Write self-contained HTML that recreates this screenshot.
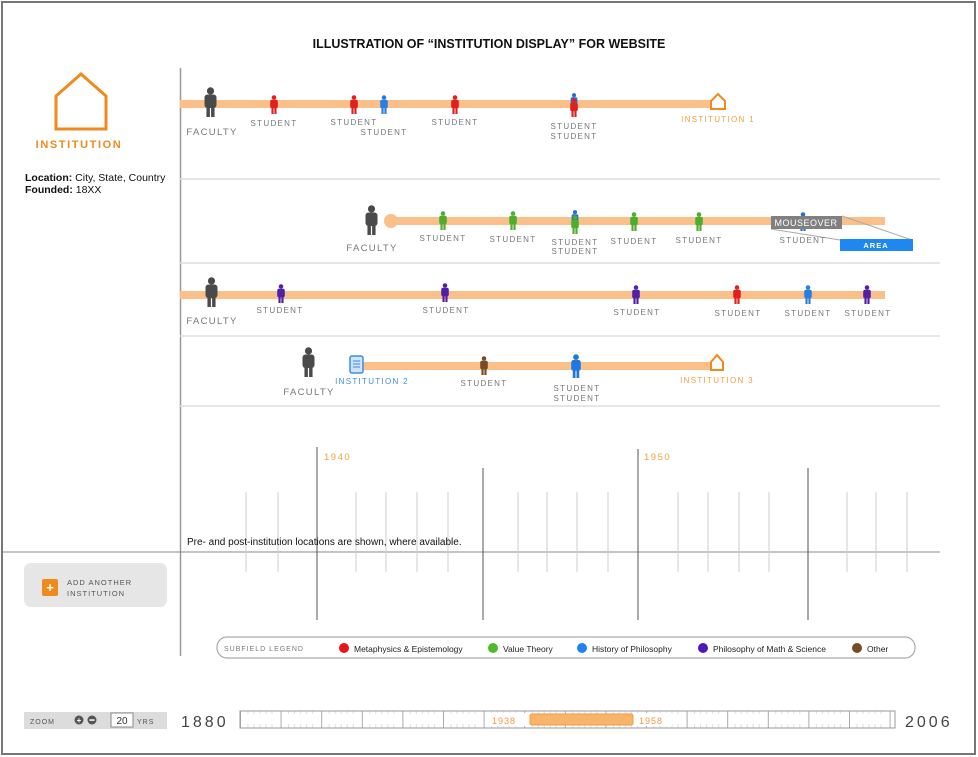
<!DOCTYPE html>
<html><head><meta charset="utf-8"><style>
html,body{margin:0;padding:0;background:#fff}
svg{display:block}
text{font-family:"Liberation Sans",sans-serif}
.lab{font-size:8px;fill:#777;letter-spacing:1.3px;text-anchor:middle}
.fac{font-size:9.5px;fill:#777;letter-spacing:1.3px;text-anchor:middle}
</style></head><body>
<svg width="978" height="757" viewBox="0 0 978 757" xmlns="http://www.w3.org/2000/svg">
<defs>
<symbol id="p" viewBox="0 0 10 20"><circle cx="5" cy="2.6" r="2.4"/><rect x="1" y="5" width="8" height="9" rx="2"/><rect x="2.3" y="12" width="2.3" height="8"/><rect x="5.4" y="12" width="2.3" height="8"/></symbol>
<pattern id="sl" x="240" y="0" width="40.6" height="20" patternUnits="userSpaceOnUse">
<line x1="0.5" y1="0" x2="0.5" y2="20" stroke="#aaa" stroke-width="1"/>
<line x1="8" y1="4" x2="8" y2="14" stroke="#ddd"/><line x1="14" y1="4" x2="14" y2="14" stroke="#ddd"/><line x1="20" y1="4" x2="20" y2="14" stroke="#ddd"/><line x1="26" y1="4" x2="26" y2="14" stroke="#ddd"/><line x1="32" y1="4" x2="32" y2="14" stroke="#ddd"/>
</pattern>
</defs>
<rect x="2" y="2" width="973" height="752" fill="#fff" stroke="#777" stroke-width="2"/>
<text x="489" y="48" text-anchor="middle" font-size="12.5" font-weight="bold" fill="#111">ILLUSTRATION OF “INSTITUTION DISPLAY” FOR WEBSITE</text>

<path d="M56 129 V96 L81 74 L106 96 V129 Z" fill="none" stroke="#f08a1c" stroke-width="3"/>
<text x="79" y="148" text-anchor="middle" font-size="11" font-weight="bold" fill="#f08a1c" letter-spacing="1.6">INSTITUTION</text>
<text x="25" y="181" font-size="10.5" fill="#111"><tspan font-weight="bold">Location:</tspan> City, State, Country</text>
<text x="25" y="193" font-size="10.5" fill="#111"><tspan font-weight="bold">Founded:</tspan> 18XX</text>

<line x1="180.5" y1="68" x2="180.5" y2="656" stroke="#999" stroke-width="1.5"/>
<g stroke="#ddd" stroke-width="1.5"><line x1="180" y1="179" x2="940" y2="179"/><line x1="180" y1="263" x2="940" y2="263"/><line x1="180" y1="336" x2="940" y2="336"/><line x1="180" y1="406" x2="940" y2="406"/></g>
<line x1="3" y1="552" x2="940" y2="552" stroke="#888" stroke-width="1"/>
<g stroke="#ccc" stroke-width="1">
<line x1="246" y1="492" x2="246" y2="572"/><line x1="278" y1="492" x2="278" y2="572"/><line x1="356" y1="492" x2="356" y2="572"/><line x1="386" y1="492" x2="386" y2="572"/><line x1="417" y1="492" x2="417" y2="572"/><line x1="448" y1="492" x2="448" y2="572"/><line x1="518" y1="492" x2="518" y2="572"/><line x1="547" y1="492" x2="547" y2="572"/><line x1="577" y1="492" x2="577" y2="572"/><line x1="608" y1="492" x2="608" y2="572"/><line x1="678" y1="492" x2="678" y2="572"/><line x1="708" y1="492" x2="708" y2="572"/><line x1="739" y1="492" x2="739" y2="572"/><line x1="769" y1="492" x2="769" y2="572"/><line x1="847" y1="492" x2="847" y2="572"/><line x1="876" y1="492" x2="876" y2="572"/><line x1="907" y1="492" x2="907" y2="572"/>
</g>
<g stroke="#555" stroke-width="1">
<line x1="317" y1="447" x2="317" y2="620"/><line x1="483" y1="468" x2="483" y2="620"/><line x1="638" y1="449" x2="638" y2="620"/><line x1="808" y1="468" x2="808" y2="620"/>
</g>
<text x="324" y="460" font-size="9.5" fill="#f0a040" letter-spacing="1.5">1940</text>
<text x="644" y="460" font-size="9.5" fill="#f0a040" letter-spacing="1.5">1950</text>
<text x="187" y="545" font-size="10" fill="#111">Pre- and post-institution locations are shown, where available.</text>

<rect x="180" y="100" width="533" height="8" fill="#fbc08a"/>
<path d="M711 109 V101 L718 94 L725 101 V109 Z" fill="#fff" stroke="#f08a1c" stroke-width="2"/>
<use href="#p" x="203" y="87" width="15" height="30" fill="#4a4a4a"/>
<use href="#p" x="269" y="95" width="10" height="19" fill="#e02020"/>
<use href="#p" x="349" y="95" width="10" height="19" fill="#e02020"/>
<use href="#p" x="379" y="95" width="10" height="19" fill="#2a7de1"/>
<use href="#p" x="450" y="95" width="10" height="19" fill="#e02020"/>
<use href="#p" x="569" y="93" width="10" height="17" fill="#2a6ed0"/>
<use href="#p" x="569" y="98" width="10" height="19" fill="#e02020"/>
<text class="fac" x="212" y="135">FACULTY</text>
<text class="lab" x="274" y="126">STUDENT</text>
<text class="lab" x="354" y="125">STUDENT</text>
<text class="lab" x="384" y="135">STUDENT</text>
<text class="lab" x="455" y="125">STUDENT</text>
<text class="lab" x="574" y="129">STUDENT</text>
<text class="lab" x="574" y="139">STUDENT</text>
<text class="lab" x="718" y="122" style="fill:#f0a040">INSTITUTION 1</text>

<rect x="390" y="217" width="495" height="8" fill="#fbc08a"/>
<circle cx="391" cy="221" r="7" fill="#fbc08a"/>
<use href="#p" x="364" y="205" width="15" height="30" fill="#4a4a4a"/>
<use href="#p" x="438" y="211" width="10" height="19" fill="#4cae2c"/>
<use href="#p" x="508" y="211" width="10" height="19" fill="#4cae2c"/>
<use href="#p" x="570" y="210" width="10" height="17" fill="#2a6ed0"/>
<use href="#p" x="570" y="215" width="10" height="19" fill="#4cae2c"/>
<use href="#p" x="629" y="212" width="10" height="19" fill="#4cae2c"/>
<use href="#p" x="694" y="212" width="10" height="19" fill="#4cae2c"/>
<use href="#p" x="798" y="212" width="10" height="19" fill="#2a6ed0"/>
<line x1="842" y1="216" x2="912" y2="240" stroke="#aaa"/>
<line x1="771" y1="229" x2="840" y2="240" stroke="#aaa"/>
<rect x="771" y="216" width="71" height="13" fill="#808080"/>
<text x="806" y="226" text-anchor="middle" font-size="9" fill="#fff" letter-spacing="0.5">MOUSEOVER</text>
<rect x="840" y="239" width="73" height="12" fill="#1e88f0"/>
<text x="876" y="248" text-anchor="middle" font-size="7.5" font-weight="bold" fill="#fff" letter-spacing="1">AREA</text>
<text class="fac" x="372" y="251">FACULTY</text>
<text class="lab" x="443" y="241">STUDENT</text>
<text class="lab" x="513" y="242">STUDENT</text>
<text class="lab" x="575" y="245">STUDENT</text>
<text class="lab" x="575" y="254">STUDENT</text>
<text class="lab" x="634" y="244">STUDENT</text>
<text class="lab" x="699" y="243">STUDENT</text>
<text class="lab" x="803" y="243">STUDENT</text>

<rect x="180" y="291" width="705" height="8" fill="#fbc08a"/>
<use href="#p" x="204" y="277" width="15" height="30" fill="#4a4a4a"/>
<use href="#p" x="276" y="284" width="10" height="19" fill="#5020a8"/>
<use href="#p" x="440" y="283" width="10" height="19" fill="#5020a8"/>
<use href="#p" x="631" y="285" width="10" height="19" fill="#5020a8"/>
<use href="#p" x="732" y="285" width="10" height="19" fill="#e02020"/>
<use href="#p" x="803" y="285" width="10" height="19" fill="#2a7de1"/>
<use href="#p" x="862" y="285" width="10" height="19" fill="#5020a8"/>
<text class="fac" x="212" y="324">FACULTY</text>
<text class="lab" x="280" y="313">STUDENT</text>
<text class="lab" x="446" y="313">STUDENT</text>
<text class="lab" x="637" y="315">STUDENT</text>
<text class="lab" x="738" y="316">STUDENT</text>
<text class="lab" x="808" y="316">STUDENT</text>
<text class="lab" x="868" y="316">STUDENT</text>

<rect x="360" y="362" width="355" height="8" fill="#fbc08a"/>
<path d="M711 370 V362 L717 355 L723 362 V370 Z" fill="#fff" stroke="#f08a1c" stroke-width="2"/>
<use href="#p" x="301" y="347" width="15" height="30" fill="#4a4a4a"/>
<rect x="350" y="356" width="13" height="17" rx="2" fill="#cfe4fa" stroke="#3a8ee6" stroke-width="1.5"/>
<g stroke="#3a8ee6" stroke-width="1"><line x1="353" y1="361" x2="360" y2="361"/><line x1="353" y1="364" x2="360" y2="364"/><line x1="353" y1="367" x2="360" y2="367"/></g>
<use href="#p" x="479" y="356" width="10" height="19" fill="#7a4a22"/>
<use href="#p" x="570" y="354" width="12" height="24" fill="#1e78e0"/>
<text class="fac" x="309" y="395">FACULTY</text>
<text class="lab" x="372" y="384" style="fill:#3a8ee6">INSTITUTION 2</text>
<text class="lab" x="484" y="386">STUDENT</text>
<text class="lab" x="577" y="391">STUDENT</text>
<text class="lab" x="577" y="401">STUDENT</text>
<text class="lab" x="717" y="383" style="fill:#f0a040">INSTITUTION 3</text>

<rect x="24" y="563" width="143" height="44" rx="7" fill="#e6e6e6"/>
<rect x="42" y="579" width="16" height="17" rx="2" fill="#f08a1c"/>
<text x="50" y="592" text-anchor="middle" font-size="13" font-weight="bold" fill="#fff">+</text>
<text x="67" y="585" font-size="7.5" fill="#555" letter-spacing="1">ADD ANOTHER</text>
<text x="67" y="596" font-size="7.5" fill="#555" letter-spacing="1">INSTITUTION</text>

<rect x="217" y="637" width="698" height="21" rx="10" fill="#fff" stroke="#aaa" stroke-width="1.2"/>
<text x="224" y="651" font-size="7" fill="#777" letter-spacing="1">SUBFIELD LEGEND</text>
<circle cx="344" cy="648" r="5" fill="#e8141a"/><text x="354" y="652" font-size="8.5" fill="#222">Metaphysics &amp; Epistemology</text>
<circle cx="493" cy="648" r="5" fill="#4cbc2c"/><text x="503" y="652" font-size="8.5" fill="#222">Value Theory</text>
<circle cx="582" cy="648" r="5" fill="#1e82f0"/><text x="592" y="652" font-size="8.5" fill="#222">History of Philosophy</text>
<circle cx="703" cy="648" r="5" fill="#5018b8"/><text x="713" y="652" font-size="8.5" fill="#222">Philosophy of Math &amp; Science</text>
<circle cx="857" cy="648" r="5" fill="#7a4a22"/><text x="867" y="652" font-size="8.5" fill="#222">Other</text>

<rect x="24" y="712" width="143" height="17" fill="#dcdcdc"/>
<text x="30" y="724" font-size="7" fill="#555" letter-spacing="1">ZOOM</text>
<circle cx="79" cy="720" r="4.5" fill="#555"/><text x="79" y="723" text-anchor="middle" font-size="8" font-weight="bold" fill="#fff">+</text>
<circle cx="92" cy="720" r="4.5" fill="#555"/><rect x="89.5" y="719.3" width="5" height="1.5" fill="#fff"/>
<rect x="111" y="713" width="22" height="14" fill="#fff" stroke="#888"/>
<text x="122" y="724" text-anchor="middle" font-size="10" fill="#333">20</text>
<text x="137" y="724" font-size="7" fill="#555" letter-spacing="1">YRS</text>
<text x="181" y="727" font-size="16" fill="#444" letter-spacing="3">1880</text>
<rect x="240" y="711" width="655" height="17" fill="url(#sl)" stroke="#999"/>
<rect x="488" y="713" width="42" height="13" fill="#fff"/>
<rect x="636" y="713" width="36" height="13" fill="#fff"/>
<rect x="530" y="714" width="103" height="11" rx="2" fill="#f7b46a" stroke="#f09840"/>
<text x="492" y="724" font-size="9" fill="#f09840" letter-spacing="1">1938</text>
<text x="639" y="724" font-size="9" fill="#f09840" letter-spacing="1">1958</text>
<text x="905" y="727" font-size="16" fill="#444" letter-spacing="3">2006</text>
</svg>
</body></html>
